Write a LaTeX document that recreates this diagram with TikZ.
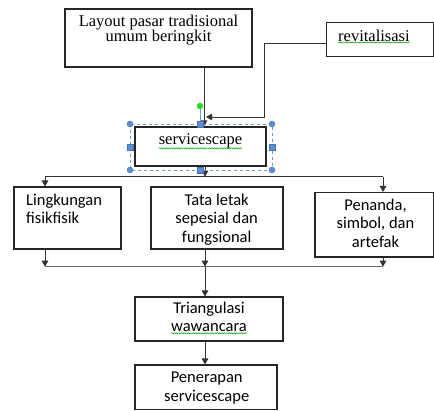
\documentclass[tikz,border=0pt]{standalone}
\usepackage{fontspec}
\setmainfont{Liberation Serif}
\newfontfamily\calibri{Carlito}
\usepackage{xcolor}
\usetikzlibrary{arrows.meta}
\usetikzlibrary{decorations.pathmorphing}
\definecolor{selBlue}{HTML}{6A9BDB}
\definecolor{handleBlue}{HTML}{5B8ED6}
\definecolor{dotGreen}{HTML}{22DD22}

\begin{document}
\begin{tikzpicture}[x=1pt, y=-1pt,
  >={Triangle[length=6pt,width=6.5pt]},
  box/.style={draw=black!85, line width=1.1pt, inner sep=0pt},
  serifTxt/.style={font=\fontsize{16.5}{15.3}\selectfont, align=center, inner sep=0pt},
  sansTxt/.style={font=\calibri\fontsize{16.5}{18.8}\selectfont, align=center, inner sep=0pt},
  link/.style={draw=black!80, line width=1pt},
  squig/.style={draw=green!65!black, line width=0.5pt, decorate,
    decoration={snake, amplitude=0.6pt, segment length=2.4pt}},
  selFrame/.style={draw=selBlue, line width=0.7pt, dashed},
  handle/.style={fill=handleBlue, draw=handleBlue!80!black, line width=0.4pt}]
  \useasboundingbox (0,0) rectangle (434,410);

  % boxes
  \node[box, minimum width=187pt, minimum height=58pt] (layout) at (158.5,38) {};
  \node[box, minimum width=107pt, minimum height=34pt] (revit) at (380,39.8) {};
  \node[box, minimum width=131pt, minimum height=39pt] (svc) at (200.5,146.5) {};
  \node[box, minimum width=107pt, minimum height=62pt] (lingk) at (67.5,218) {};
  \node[box, minimum width=132pt, minimum height=62pt] (tata) at (217,218) {};
  \node[box, minimum width=118.5pt, minimum height=64.5pt] (penanda) at (374.25,224.75) {};
  \node[box, minimum width=148pt, minimum height=44pt] (tri) at (209,319) {};
  \node[box, minimum width=142pt, minimum height=44.5pt] (pen) at (206,387.25) {};

  % texts
  \node[serifTxt, anchor=north] (layoutTxt) at (158.5,14.5) {Layout pasar tradisional\\umum beringkit};
  \node[serifTxt, anchor=north west] (revitTxt) at (338,29.5) {revitalisasi};
  \node[serifTxt, anchor=north] (svcTxt) at (200.5,133.5) {servicescape};
  \node[sansTxt, anchor=north west, align=left] (lingkTxt) at (26,193.5) {Lingkungan\\fisikfisik};
  \node[sansTxt, anchor=north] (tataTxt) at (216.7,193.5) {Tata letak\\sepesial dan\\fungsional};
  \node[sansTxt, anchor=north] (penandaTxt) at (375.5,198.5) {Penanda,\\simbol, dan\\artefak};
  \node[sansTxt, anchor=north] (triTxt) at (209,301.5) {Triangulasi\\wawancara};
  \node[sansTxt, anchor=north] (penTxt) at (206.7,371.5) {Penerapan\\servicescape};

  % spelling marks
  \draw[squig] ([yshift=-1pt]revitTxt.south west) -- ([yshift=-1pt]revitTxt.south east);
  \draw[squig] (svcTxt.south west) -- (svcTxt.south east);
  \draw[squig] ([yshift=-1pt]triTxt.south west) -- ([yshift=-1pt]triTxt.south east);

  % columns and bus lines
  \coordinate (colL) at (45,0);
  \coordinate (colM) at (205,0);
  \coordinate (colR) at (383,0);
  \coordinate (colT) at (204,0);
  \coordinate (busA) at (0,176.7);
  \coordinate (busB) at (0,266.7);
  \coordinate (bend) at (264,117);
  \coordinate (jIn) at (206,117);

  % connectors
  \draw[link, ->] (layout.south -| colT) -- (svc.north -| colT);
  \draw[link, ->] ([yshift=-4pt]revit.west) -| (bend) -- (jIn);
  \draw[link, ->] (svc.south -| colM) -- (busA -| colM);
  \draw[link] (busA -| colL) -- (busA -| colR);
  \draw[link, ->] (busA -| colL) -- (lingk.north -| colL);
  \draw[link, ->] (busA -| colR) -- (penanda.north -| colR);
  \draw[link, ->] (lingk.south -| colL) -- (busB -| colL);
  \draw[link, ->] (tata.south -| colM) -- (busB -| colM);
  \draw[link, ->] (penanda.south -| colR) -- (busB -| colR);
  \draw[link, draw=black!60] (busB -| colL) -- (busB -| colR);
  \draw[link, ->] (busB -| colM) -- (tri.north -| colM);
  \draw[link, ->] (tri.south -| colM) -- (pen.north -| colM);

  % selection frame round servicescape
  \draw[selFrame] (130,124) rectangle (272,170);
  \draw[selBlue, line width=0.7pt] (200,106) -- (200,124);
  \fill[dotGreen] (200,106) circle (3.2pt);
  \foreach \hx/\hy in {130/124, 272/124, 130/170, 272/170}
    \filldraw[handle] (\hx,\hy) circle (3pt);
  \foreach \hx/\hy in {200/124, 200/170, 130/147, 272/147}
    \filldraw[handle] (\hx-3,\hy-3) rectangle (\hx+3,\hy+3);
\end{tikzpicture}
\end{document}
